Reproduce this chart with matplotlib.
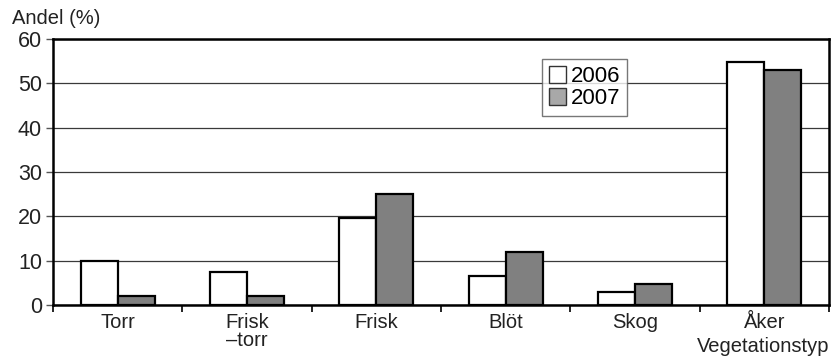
import matplotlib
matplotlib.use("Agg")
import matplotlib.pyplot as plt
from matplotlib.patches import Patch
import numpy as np

categories = ["Torr", "Frisk\n–torr", "Frisk", "Blöt", "Skog", "Åker"]
years = ["2006", "2007"]
values_2006 = [10.0, 7.5, 19.6, 6.6, 2.9, 54.7]
values_2007 = [2.0, 2.0, 25.0, 12.0, 4.7, 52.9]
y_ticks = [0, 10, 20, 30, 40, 50, 60]

plt.rcParams["font.family"] = ["Liberation Sans", "DejaVu Sans"]

fig = plt.figure(figsize=(8.34, 3.6), dpi=100)
ax = fig.add_axes([53 / 834, 1 - 305 / 360, 776 / 834, 266 / 360])

x = np.arange(len(categories))
w = 0.286
ax.bar(x - w / 2, values_2006, w, color="white", edgecolor="black", linewidth=1.6, zorder=3)
ax.bar(x + w / 2, values_2007, w, color="#808080", edgecolor="black", linewidth=1.6, zorder=3)

ax.set_xlim(-0.5, len(categories) - 0.5)
ax.set_ylim(0, 60)
ax.set_yticks(y_ticks)
ax.set_yticklabels([str(t) for t in y_ticks], fontsize=15.5)
ax.yaxis.grid(True, color="#3a3a3a", linewidth=0.9, zorder=0)
ax.tick_params(axis="y", length=5, width=1, color="#555555", pad=3, labelcolor="#222222")

# category labels centred, tick marks on category boundaries
ax.set_xticks(x)
ax.set_xticklabels(categories, fontsize=14.5, color="#222222", linespacing=0.9)
ax.tick_params(axis="x", length=0, pad=6)
ax.set_xticks(np.arange(len(categories) + 1) - 0.5, minor=True)
ax.tick_params(axis="x", which="minor", length=5, width=1.2, color="black")

for s in ax.spines.values():
    s.set_linewidth(1.8)
    s.set_color("black")

fig.text(12 / 834, 1 - 18 / 360, "Andel (%)", fontsize=14.5, color="#222222", va="center", ha="left")
fig.text(829 / 834, 1 - 347 / 360, "Vegetationstyp", fontsize=14.5, color="#222222", va="center", ha="right")

handles = [Patch(facecolor="white", edgecolor="#333333", linewidth=1.0),
           Patch(facecolor="#a8a8a8", edgecolor="#333333", linewidth=1.0)]
leg = ax.legend(handles, years, loc="upper left", bbox_to_anchor=(489 / 776, 1 - 20 / 266),
                fontsize=16, frameon=True, fancybox=False, handlelength=0.8, handleheight=0.8,
                handletextpad=0.2, borderpad=0.3, labelspacing=0.05, borderaxespad=0)
leg.get_frame().set_edgecolor("#555555")
leg.get_frame().set_linewidth(1.0)
leg.set_zorder(5)

fig.savefig("out.png", dpi=100)
